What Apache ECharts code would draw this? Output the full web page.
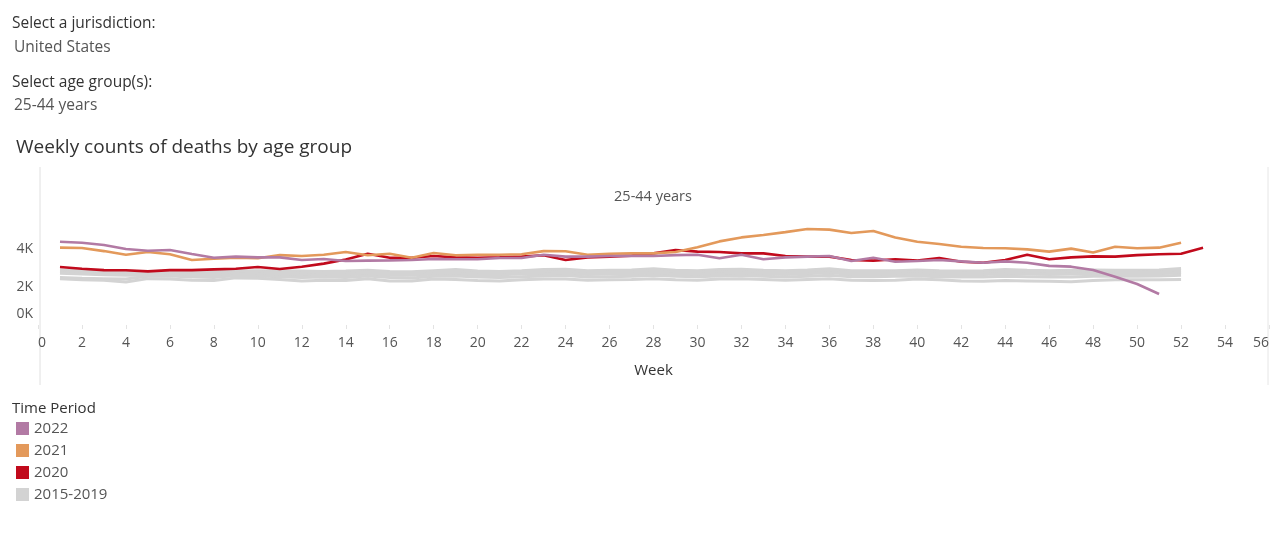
<!DOCTYPE html>
<html>
<head>
<meta charset="utf-8">
<script src="https://cdn.jsdelivr.net/npm/echarts@6/dist/echarts.min.js"></script>
<style>
html,body{margin:0;padding:0;background:#fff;}
#chart{width:1280px;height:543px;}
</style>
</head>
<body>
<div id="chart"></div>
<script>
// Values in thousands of deaths, week index starts at 1
const yearLabels = ['2022', '2021', '2020', '2015-2019'];
const yTicks = ['0K', '2K', '4K'];
const deaths2022 = [4.38,4.33,4.21,4.00,3.91,3.95,3.74,3.54,3.60,3.56,
  3.56,3.42,3.47,3.37,3.39,3.40,3.42,3.47,3.46,3.46,
  3.53,3.53,3.70,3.60,3.60,3.63,3.63,3.63,3.68,3.70,
  3.51,3.70,3.46,3.56,3.60,3.63,3.37,3.54,3.33,3.37,
  3.42,3.35,3.28,3.35,3.28,3.11,3.07,2.89,2.54,2.16,1.63];
const deaths2021 = [4.07,4.05,3.89,3.70,3.84,3.72,3.42,3.49,3.54,3.51,
  3.68,3.63,3.70,3.84,3.67,3.75,3.54,3.79,3.67,3.70,
  3.70,3.72,3.89,3.88,3.70,3.75,3.77,3.77,3.84,4.09,
  4.40,4.61,4.74,4.89,5.05,5.02,4.84,4.95,4.61,4.38,
  4.26,4.12,4.05,4.04,3.98,3.86,4.02,3.82,4.12,4.04,
  4.07,4.33];
const deaths2020 = [3.05,2.96,2.89,2.88,2.82,2.89,2.89,2.93,2.96,3.05,
  2.95,3.07,3.23,3.45,3.75,3.54,3.54,3.63,3.56,3.54,
  3.56,3.60,3.67,3.42,3.56,3.60,3.65,3.77,3.95,3.86,
  3.84,3.77,3.77,3.63,3.60,3.60,3.42,3.39,3.46,3.39,
  3.53,3.33,3.28,3.42,3.70,3.46,3.56,3.61,3.60,3.68,
  3.72,3.75,4.07];
const baselineA = [2.90,2.86,2.82,2.80,2.80,2.82,2.80,2.80,2.84,2.86,
  2.84,2.84,2.82,2.84,2.88,2.82,2.80,2.86,2.92,2.84,
  2.82,2.86,2.92,2.94,2.86,2.88,2.90,2.96,2.88,2.86,
  2.92,2.94,2.88,2.86,2.90,2.96,2.86,2.86,2.86,2.90,
  2.86,2.84,2.86,2.92,2.88,2.86,2.88,2.90,2.88,2.88,
  2.90,2.98];
const baselineB = [2.80,2.76,2.74,2.72,2.72,2.74,2.72,2.70,2.76,2.78,
  2.76,2.74,2.72,2.74,2.78,2.72,2.72,2.78,2.80,2.74,
  2.74,2.78,2.80,2.82,2.76,2.78,2.80,2.84,2.78,2.76,
  2.80,2.82,2.78,2.76,2.80,2.86,2.76,2.76,2.78,2.80,
  2.76,2.74,2.76,2.80,2.78,2.76,2.78,2.80,2.78,2.78,
  2.80,2.86];
const baselineC = [2.72,2.68,2.64,2.62,2.62,2.64,2.60,2.62,2.66,2.68,
  2.66,2.64,2.62,2.64,2.68,2.62,2.62,2.68,2.70,2.64,
  2.64,2.68,2.70,2.72,2.66,2.68,2.70,2.74,2.68,2.66,
  2.70,2.72,2.68,2.66,2.70,2.76,2.66,2.66,2.68,2.70,
  2.66,2.64,2.66,2.70,2.68,2.66,2.68,2.70,2.68,2.68,
  2.70,2.76];
const baselineD = [2.50,2.46,2.44,2.42,2.56,2.58,2.52,2.50,2.60,2.58,
  2.54,2.50,2.52,2.50,2.58,2.50,2.48,2.56,2.58,2.52,
  2.50,2.54,2.58,2.60,2.52,2.54,2.56,2.62,2.56,2.54,
  2.58,2.60,2.56,2.52,2.56,2.62,2.54,2.54,2.56,2.58,
  2.54,2.52,2.52,2.56,2.54,2.52,2.52,2.56,2.56,2.56,
  2.58,2.62];
const baselineE = [2.44,2.38,2.36,2.26,2.44,2.42,2.36,2.34,2.48,2.46,
  2.40,2.32,2.36,2.34,2.44,2.32,2.32,2.42,2.40,2.34,
  2.32,2.38,2.42,2.42,2.36,2.38,2.40,2.44,2.38,2.36,
  2.42,2.44,2.40,2.36,2.40,2.44,2.36,2.34,2.36,2.42,
  2.38,2.32,2.30,2.34,2.32,2.30,2.28,2.34,2.38,2.38,
  2.38,2.40];

const FONT = 'Open Sans';
const toPairs = arr => arr.map((v, i) => [i + 1, v]);
const GRAY = '#d3d3d3';
const colors = {'2022': '#b27aa4', '2021': '#e3995b', '2020': '#c10a1c', '2015-2019': GRAY};

const series = [];
[baselineA, baselineB, baselineC, baselineD, baselineE].forEach(arr => {
  series.push({name: '2015-2019', type: 'line', data: toPairs(arr), symbol: 'none',
    color: GRAY, lineStyle: {width: 3, color: GRAY}, silent: true, z: 1});
});
[['2020', deaths2020, 2], ['2021', deaths2021, 3], ['2022', deaths2022, 4]].forEach(([n, arr, z]) => {
  series.push({name: n, type: 'line', data: toPairs(arr), symbol: 'none',
    color: colors[n], lineStyle: {width: 2.6, color: colors[n]}, z: z});
});

const chart = echarts.init(document.getElementById('chart'), null, {renderer: 'canvas'});
chart.setOption({
  animation: false,
  textStyle: {fontFamily: FONT},
  grid: {left: 38, right: 11, top: 222.4, bottom: 218, containLabel: false},
  xAxis: {
    type: 'value', min: 0, max: 56, interval: 2,
    name: 'Week', nameLocation: 'middle', nameGap: 38,
    nameTextStyle: {fontFamily: FONT, fontSize: 15, color: '#333'},
    axisLine: {show: false},
    axisTick: {show: true, length: 4, lineStyle: {color: '#e3e3e3'}},
    splitLine: {show: false},
    axisLabel: {fontFamily: FONT, fontSize: 14, color: '#555', margin: 11,
      alignMinLabel: 'left', alignMaxLabel: 'right'}
  },
  yAxis: {
    type: 'value', min: 0, max: 5.4, interval: 2,
    axisLine: {show: false}, axisTick: {show: false}, splitLine: {show: false},
    axisLabel: {fontFamily: FONT, fontSize: 14, color: '#555', margin: 5, showMaxLabel: false,
      formatter: v => {
        const idx = Math.round(v / 2);
        const t = yTicks[idx];
        if (t === undefined) return '';
        return idx === 0 ? '{z|' + t + '}' : t;
      },
      rich: {z: {fontFamily: FONT, fontSize: 14, color: '#555', padding: [0, 0, 22, 0]}}
    }
  },
  legend: {
    data: yearLabels, orient: 'vertical', left: 12, top: 421,
    icon: 'rect', itemWidth: 13, itemHeight: 13, itemGap: 7,
    textStyle: {fontFamily: FONT, fontSize: 15, color: '#555'},
    selectedMode: false, padding: [0, 0, 0, 4]
  },
  graphic: [
    {type: 'text', left: 12, top: 16, style: {text: 'Select a jurisdiction:', font: '15.5px "' + FONT + '"', fill: '#333'}},
    {type: 'text', left: 14, top: 40, style: {text: 'United States', font: '15.5px "' + FONT + '"', fill: '#555'}},
    {type: 'text', left: 12, top: 75, style: {text: 'Select age group(s):', font: '15.5px "' + FONT + '"', fill: '#333'}},
    {type: 'text', left: 14, top: 98, style: {text: '25-44 years', font: '15.5px "' + FONT + '"', fill: '#555'}},
    {type: 'text', left: 16, top: 138, style: {text: 'Weekly counts of deaths by age group', font: '19px "' + FONT + '"', fill: '#333'}},
    {type: 'text', x: 653, y: 197, style: {text: '25-44 years', font: '14.5px "' + FONT + '"', fill: '#555', align: 'center', verticalAlign: 'middle'}},
    {type: 'text', left: 12, top: 401, style: {text: 'Time Period', font: '15px "' + FONT + '"', fill: '#333'}},
    {type: 'line', shape: {x1: 40, y1: 167, x2: 40, y2: 385}, style: {stroke: '#e0e0e0', lineWidth: 1}, silent: true},
    {type: 'line', shape: {x1: 1268, y1: 167, x2: 1268, y2: 385}, style: {stroke: '#e6e6e6', lineWidth: 1}, silent: true}
  ],
  series: series
});
</script>
</body>
</html>
